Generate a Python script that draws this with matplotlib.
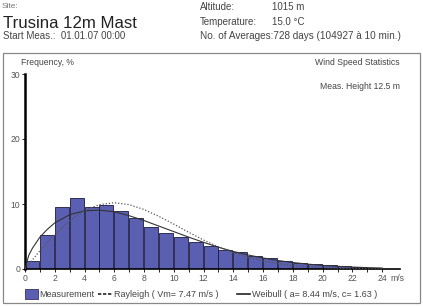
import matplotlib
matplotlib.use("Agg")
import matplotlib.pyplot as plt
from matplotlib.patches import Rectangle
from matplotlib.lines import Line2D

plt.rcParams['font.family'] = ['Liberation Sans', 'DejaVu Sans']

# Measured frequency per 1 m/s bin (bin left edges 0..23)
bin_left = list(range(0, 24))
freq = [1.2, 5.3, 9.5, 10.9, 9.6, 9.9, 9.0, 7.9, 6.4, 5.5, 5.0, 4.1,
        3.6, 3.0, 2.6, 2.05, 1.7, 1.3, 1.0, 0.75, 0.55, 0.4, 0.3, 0.2]

# Weibull fit curve
weib_v = [0, 0.25, 0.5, 1, 1.5, 2, 3, 4, 5, 6, 7, 8, 9, 10, 11, 12, 13, 14,
          15, 16, 17, 18, 19, 20, 21, 22, 23, 24]
weib_f = [0, 2.1, 3.2, 4.9, 6.1, 7.1, 8.35, 8.95, 9.05, 8.8, 8.2, 7.45, 6.6,
          5.75, 4.9, 4.1, 3.35, 2.7, 2.15, 1.7, 1.3, 1.0, 0.75, 0.56, 0.41,
          0.3, 0.21, 0.15]

# Rayleigh curve
ray_v = [0, 1, 2, 3, 4, 5, 6, 7, 8, 9, 10, 11, 12, 13, 14, 15, 16, 17, 18,
         19, 20, 21, 22, 23, 24]
ray_f = [0, 2.8, 5.3, 7.45, 9.0, 9.9, 10.2, 9.9, 9.15, 8.1, 6.9, 5.65, 4.45,
         3.4, 2.5, 1.8, 1.23, 0.82, 0.53, 0.33, 0.2, 0.12, 0.07, 0.04, 0.02]

x_ticks = list(range(0, 25, 2))
y_ticks = [0, 10, 20, 30]

W, H = 423, 307
fig = plt.figure(figsize=(W / 100, H / 100), dpi=100)

def fx(px):
    return px / W

def fy(py):
    return 1 - py / H

# Outer frame
fig.patches.append(Rectangle((fx(3), fy(303)), fx(417), 250 / H,
                             transform=fig.transFigure, fill=False,
                             edgecolor='#888888', linewidth=0.9))

# Header texts
gray = '#444444'
fig.text(fx(2), fy(8), "Site:", fontsize=6, color='#777777')
fig.text(fx(3), fy(28), "Trusina 12m Mast", fontsize=12.1, color='#222222')
fig.text(fx(3), fy(39), "Start Meas.:  01.01.07 00:00", fontsize=7, color=gray)
fig.text(fx(200), fy(10), "Altitude:", fontsize=7, color=gray)
fig.text(fx(272), fy(10), "1015 m", fontsize=7, color=gray)
fig.text(fx(200), fy(25), "Temperature:", fontsize=7, color=gray)
fig.text(fx(272), fy(25), "15.0 \u00b0C", fontsize=7, color=gray)
fig.text(fx(200), fy(39), "No. of Averages:728 days (104927 \u00e0 10 min.)",
         fontsize=7.2, color=gray)

fig.text(fx(21), fy(65), "Frequency, %", fontsize=6.2, color=gray)
fig.text(fx(400), fy(65), "Wind Speed Statistics", fontsize=6.2, color=gray, ha='right')
fig.text(fx(400), fy(89), "Meas. Height 12.5 m", fontsize=6.2, color=gray, ha='right')

# Axes
ax_left, ax_right = 25, 400
ax_top, ax_bottom = 74, 269
ax = fig.add_axes([fx(ax_left), fy(ax_bottom), (ax_right - ax_left) / W,
                   (ax_bottom - ax_top) / H])
ax.set_xlim(0, 25.2)
ax.set_ylim(0, 30)

ax.bar(bin_left, freq, width=0.94, align='edge', color='#5a5fb2',
       edgecolor='#1a1a40', linewidth=0.6, zorder=2)
ax.plot(weib_v, weib_f, color='#333333', linewidth=0.8, zorder=3)
ax.plot(ray_v, ray_f, color='#555555', linewidth=0.9, linestyle=(0, (1, 1.5)),
        zorder=3)

for s in ['top', 'right']:
    ax.spines[s].set_visible(False)
ax.spines['left'].set_linewidth(1.8)
ax.spines['bottom'].set_linewidth(1.2)
ax.set_xticks(x_ticks)
ax.set_xticks(range(0, 25), minor=True)
ax.set_xticklabels([str(t) for t in x_ticks])
ax.set_yticks(y_ticks)
ax.tick_params(axis='both', which='both', labelsize=6.2, labelcolor='#555555',
               length=2, width=0.6, pad=1.5)
ax.tick_params(axis='x', which='minor', length=2)
ax.annotate("m/s", xy=(24.55, 0), xycoords=('data', 'axes fraction'),
            xytext=(0, -3.5), textcoords='offset points',
            ha='left', va='top', fontsize=6.2, color='#555555')

# Legend (manual)
ly = 294
fig.patches.append(Rectangle((fx(25), fy(299)), 13 / W, 10 / H,
                             transform=fig.transFigure, facecolor='#5a5fb2',
                             edgecolor='#1a1a40', linewidth=0.5))
fig.text(fx(39), fy(297), "Measurement", fontsize=6.5, color=gray)
fig.lines.append(Line2D([fx(98), fx(113)], [fy(ly), fy(ly)],
                        transform=fig.transFigure, color='#222222',
                        linewidth=1.2, linestyle=(0, (2, 1))))
fig.text(fx(114), fy(297), "Rayleigh ( Vm= 7.47 m/s )", fontsize=6.5, color=gray)
fig.lines.append(Line2D([fx(237), fx(250)], [fy(ly), fy(ly)],
                        transform=fig.transFigure, color='#222222',
                        linewidth=1.2))
fig.text(fx(252), fy(297), "Weibull ( a= 8.44 m/s, c= 1.63 )", fontsize=6.5, color=gray)

fig.savefig("out.png", dpi=100)
